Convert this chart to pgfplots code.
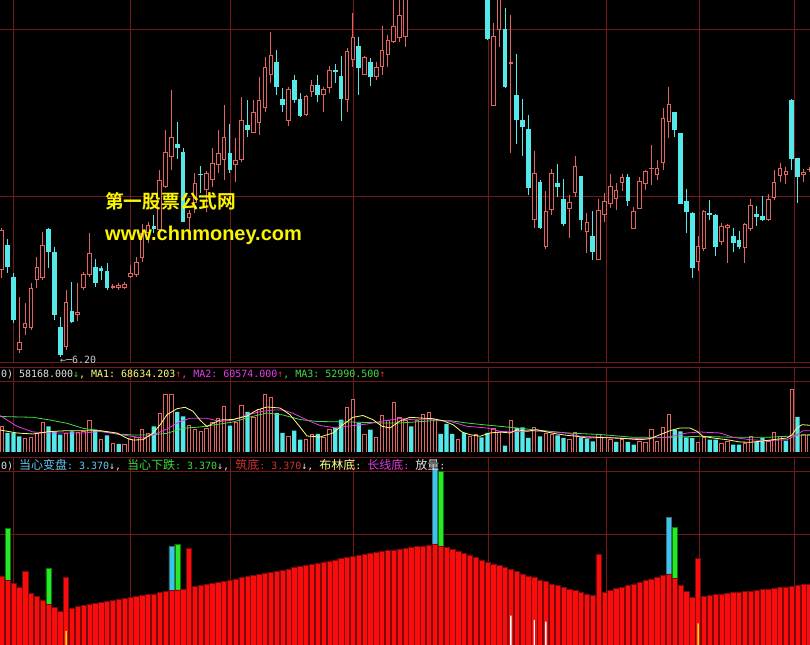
\documentclass[border=0pt]{standalone}
\usepackage{fontspec}
\usepackage{pgfplots}
\pgfplotsset{compat=1.18}
\usepackage{pgfplotstable}
\setmonofont{DejaVu Sans Mono}
\newfontfamily\cjk{Noto Sans CJK SC}
\newfontfamily\cjkb{Noto Sans CJK SC Bold}
\newfontfamily\lib{Liberation Sans}
\newcommand\C[1]{{\cjk\fontsize{12bp}{12bp}\selectfont #1}}
\definecolor{gridred}{RGB}{115,24,24}
\definecolor{candred}{RGB}{226,100,96}
\definecolor{candcyan}{RGB}{84,232,232}
\definecolor{indred}{RGB}{250,12,12}
\definecolor{indedge}{RGB}{120,10,10}
\definecolor{indgreen}{RGB}{40,230,40}
\definecolor{indcyan}{RGB}{50,200,240}
\definecolor{mayel}{RGB}{255,255,120}
\definecolor{mamag}{RGB}{230,60,230}
\definecolor{magrn}{RGB}{70,220,70}
\definecolor{hdrwhite}{RGB}{225,225,225}
\definecolor{hdrblue}{RGB}{100,200,240}
\definecolor{hdrgreen}{RGB}{60,220,60}
\definecolor{hdrred}{RGB}{210,50,50}
\definecolor{hdryel}{RGB}{255,255,140}
\definecolor{hdrmag}{RGB}{220,60,220}
\definecolor{wm}{RGB}{250,245,0}
\definecolor{lgray}{RGB}{200,200,200}

% candles: i, high, body top, body bottom, low  (image rows, top = 0)
\pgfplotstableread{
i h t b l
0 228 230 270 278
3 297 342 350 353
4 303 323 328 335
5 283 288 328 330
6 257 267 280 288
7 232 245 278 280
11 290 302 347 350
13 283 312 315 321
14 272 274 288 290
15 233 253 275 277
19 284 286 288 289
20 283 285 288 290
21 282 284 288 289
22 265 273 277 278
23 257 262 275 277
24 224 233 258 262
25 222 225 233 243
27 170 180 230 233
28 130 152 187 188
29 90 137 157 170
32 210 213 218 230
33 173 183 203 213
35 171 173 190 212
36 148 163 180 187
37 130 153 165 173
38 105 137 160 180
40 138 160 165 182
41 97 120 160 162
43 100 112 133 133
44 77 100 123 135
45 57 67 108 112
46 32 55 75 83
49 87 89 121 126
52 95 96 115 116
53 80 85 92 97
55 87 89 95 112
56 66 70 88 93
59 48 51 100 112
60 13 37 60 67
62 56 57 75 75
64 62 67 77 80
65 26 50 67 75
66 35 40 55 67
67 -10 26 42 43
68 -10 15 38 42
69 -10 -5 37 47
84 23 36 106 106
85 -10 -5 30 47
87 15 62 64 153
91 151 173 220 228
93 191 211 247 249
94 169 173 210 215
97 195 202 209 238
98 156 166 193 197
100 213 222 232 253
102 199 210 260 260
103 193 201 215 222
104 174 186 204 208
105 183 190 199 210
106 174 177 183 191
108 207 211 229 229
109 177 181 209 209
110 170 171 184 190
111 145 168 169 185
112 160 168 175 180
113 108 118 163 170
114 87 104 122 138
119 236 246 262 271
120 210 211 249 251
123 223 226 242 245
124 224 225 228 263
127 223 224 248 263
128 199 205 229 231
131 194 199 220 221
132 170 182 198 200
133 163 168 176 182
134 167 171 175 184
137 169 172 175 182
138 167 169 170 172
}\redc
\pgfplotstableread{
i h t b l
1 239 245 267 273
2 273 277 320 323
8 228 229 252 268
9 247 252 315 320
10 317 327 355 357
12 282 311 322 323
16 259 267 283 287
17 266 268 271 280
18 263 271 288 290
26 215 226 229 233
30 122 144 148 159
31 148 152 222 222
34 166 174 175 193
39 124 153 170 173
42 100 125 130 137
47 50 62 87 95
48 88 99 105 112
50 75 80 100 103
51 93 99 116 117
54 75 85 95 102
57 64 70 72 83
58 56 76 99 121
61 37 46 68 95
63 58 62 77 86
83 -10 -5 39 40
86 8 29 87 88
88 54 95 120 144
89 99 120 127 156
90 115 129 188 195
92 180 182 228 229
95 164 183 187 197
96 179 199 224 226
99 176 176 220 230
101 211 236 252 260
107 174 177 201 206
115 112 112 130 137
116 133 133 204 204
117 189 201 212 233
118 212 213 268 278
121 200 213 215 220
122 214 215 247 256
125 228 236 243 252
126 231 240 247 249
129 206 214 217 226
130 196 216 220 221
135 99 100 159 170
136 158 158 177 203
}\cyanc

% volume bars: i, top row of bar
\pgfplotstableread{
i t
0 426.3
4 438
5 437.3
6 433
7 422
11 433
13 432.3
14 431.3
15 420.3
17 439
19 443
21 444.7
22 439.7
23 437.3
24 429.7
25 433
27 413
28 394.7
29 394
32 425.3
33 429.7
34 431
35 428
36 422
37 418.7
38 406.3
40 422
41 405.3
43 417.3
44 409.7
45 394.7
46 397.3
49 436.3
52 439.7
53 434.7
55 437.3
56 429.7
59 407.3
60 399.7
62 434
64 437.3
65 415.3
66 420.7
67 402
68 417.3
69 420
71 420.7
72 414
73 412
74 419.5
78 439
80 436.3
81 434.7
84 428
85 432
87 420.7
91 427.3
93 433
94 434
97 439.7
98 432
102 434.7
103 437.3
104 439
106 439.7
109 441.3
110 442
111 429
112 441.3
113 427.3
114 414.7
119 442
120 437.3
123 443
124 441.3
127 443.7
128 436.3
131 441.3
132 432
133 436.3
135 389.7
137 434
138 434
}\redv
\pgfplotstableread{
i t
1 433
2 433
3 436.3
8 426.3
9 431.3
10 434.7
12 431.3
16 429.7
18 435.3
20 444
26 426.3
30 412
31 416.3
39 425.7
42 412
47 413
48 433
50 430.7
51 439.7
54 434
57 428
58 419.7
61 423
63 429.7
70 426.3
75 434
76 424
77 434
79 433
82 437.3
83 433
86 445.7
88 428
89 427.3
90 438
92 436.3
95 435.3
96 438
99 437.3
100 438.7
101 441.3
105 442
107 442
108 444.7
115 429.7
116 431.3
117 437.3
118 438
121 439.7
122 439.7
125 444.7
126 444.7
129 442
130 438
134 440.7
136 417
}\cyanv

% moving averages of volume: pixel x, row y
\pgfplotstableread{
x y
0 430
17 433
33 434
50 431.5
67 430.7
100 430.7
117 433
127 438.3
133 440
143 439.7
153 433
160 425
167 414.7
177 408.7
185 407.3
193 411.3
200 420
207 426.7
213 423.3
220 420
233 419.5
247 416
257 410
267 407
280 408
290 414.7
300 427
307 436
320 437
333 433
343 424.7
353 417.3
363 415.5
373 419.7
382 426.3
390 428
400 421
410 417.3
420 418
433 418.7
443 420.7
453 424.7
462 432
470 434.7
480 436.3
490 433
500 432
510 433
517 429.7
527 431.3
537 429.7
547 432
557 434
567 435.3
577 436.3
587 438
600 437.5
613 438
627 438.7
640 439.7
650 438.7
660 434.7
670 430.7
680 428
690 428
697 431.3
703 436.3
713 438
727 439.7
740 442
750 442.3
760 441.3
773 439.7
787 438
792 434.7
797 428
802 424.7
810 425.3
}\maone
\pgfplotstableread{
x y
0 415.5
17 426.3
33 432
50 433
83 433
100 431.5
117 434
133 436.5
143 438
153 435
167 429
180 421.5
190 418.3
207 418.3
220 421.5
233 420
247 415
260 411.7
273 410
283 410
293 413.3
307 420
320 425.5
333 427.5
350 426
367 424
383 421
400 418.5
413 419.7
433 419.7
450 421.3
467 426.3
487 428
500 431.3
513 432
527 430.7
540 431.3
553 432
567 433
580 436.3
600 437
633 438.7
667 437.3
687 433
700 432
720 433
733 437.3
750 439.7
767 440.7
787 439.7
797 434.7
803 430.7
810 430.7
}\matwo
\pgfplotstableread{
x y
0 416.5
33 417.3
50 420
67 423.3
83 428.3
100 430.7
117 434
133 435
150 435
167 433.3
183 428.3
200 427
217 424.5
233 422
250 417
267 413
283 415
300 419.5
317 421.5
350 422
367 422.5
383 423
400 423
433 420.7
450 420.7
467 423
483 424.7
500 426.3
517 428
533 429.7
550 431.3
567 433
600 434.5
633 437.3
667 437.3
700 436.3
733 437.3
767 437.3
787 436.3
800 435.3
810 435.3
}\mathree

% indicator: i, top row of bar
\pgfplotstableread{
i t
0 576
1 580.7
2 583.3
3 587.3
4 571.7
5 593.3
6 596.7
7 600
8 604.3
9 607.3
10 611.7
11 577.3
12 608.3
13 606.7
14 605.7
15 604.3
16 603.3
17 602.3
18 601.3
19 600.3
20 599.3
21 598.3
22 597.3
23 596.7
24 595.7
25 594.7
26 594
27 592.7
28 591.7
29 590.7
30 590
31 589
32 548.3
33 586.7
34 585.7
35 584.3
36 583.3
37 582.3
38 581.3
39 580
40 579
41 577.7
42 576.7
43 575.7
44 574.7
45 573.3
46 572.3
47 571.3
48 570.3
49 569
50 567.7
51 566.7
52 565.7
53 564.3
54 563.3
55 562
56 561
57 560
58 558.7
59 557.7
60 556.7
61 555.7
62 554.7
63 553.7
64 552.7
65 551.7
66 550.7
67 550
68 549
69 548.3
70 547.3
71 546.7
72 546
73 545
74 544
75 546
76 547.3
77 549.3
78 551
79 553.3
80 555
81 557.3
82 560
83 562.3
84 564
85 565.7
86 567.3
87 569.3
88 571.7
89 574
90 576
91 577.3
92 580
93 581.7
94 584
95 585.7
96 587.3
97 589.3
98 590.7
99 592.3
100 594
101 595.7
102 554.3
103 592.7
104 590.7
105 588.7
106 587.3
107 585.7
108 584
109 582.3
110 580.7
111 579
112 577.3
113 575.7
114 574
115 578.3
116 585
117 591.7
118 597.3
119 558.3
120 596.7
121 595.7
122 594.7
123 594
124 593.3
125 592.7
126 592.3
127 591.7
128 591
129 590.3
130 589.7
131 589
132 588.3
133 587.7
134 587
135 586.3
136 585.3
137 584.7
138 584
}\indred
\pgfplotstableread{
i t
1 528.3
8 568.3
30 544.3
75 471.7
115 527.3
}\indgrn
\pgfplotstableread{
i t
29 546.7
74 468.3
114 517.7
}\indcyn
\pgfplotstableread{
i t
87 615.7
91 620
93 621.7
}\indwht
\pgfplotstableread{
i t
11 631
119 623.3
}\indyel

\pgfplotsset{
  panel/.style={scale only axis, width=810bp, xmin=0, xmax=810,
    axis line style={draw=none}, major tick length=0pt,
    xtick={13,130,230,353,488,606,699,794}, xticklabels={}, yticklabels={},
    grid=major, grid style={gridred, line width=0.8bp}, anchor=south west},
}
\newcommand\XI{1.7+5.852*\thisrow{i}}

\begin{document}
\begin{tikzpicture}
\fill[black] (0,0) rectangle (810bp,645bp);
\path[use as bounding box] (0,0) rectangle (810bp,645bp);

% ---- price panel ----
\begin{axis}[panel, at={(0bp,283bp)}, height=362bp, ymin=0, ymax=362, y dir=reverse, ytick={29,196,362}]
\addplot[candred, line width=0.9bp, quiver={u=0, v=\thisrow{l}-\thisrow{h}}] table[x expr=\XI, y=h] {\redc};
\addplot[candred, line width=4.6bp, quiver={u=0, v={max(\thisrow{b}-\thisrow{t},1)}}] table[x expr=\XI, y=t] {\redc};
\addplot[black, line width=2.6bp, quiver={u=0, v={max(\thisrow{b}-\thisrow{t}-2,0)}}] table[x expr=\XI, y expr=\thisrow{t}+1] {\redc};
\addplot[candcyan, line width=0.9bp, quiver={u=0, v=\thisrow{l}-\thisrow{h}}] table[x expr=\XI, y=h] {\cyanc};
\addplot[candcyan, line width=4.6bp, quiver={u=0, v={max(\thisrow{b}-\thisrow{t},1)}}] table[x expr=\XI, y=t] {\cyanc};
\end{axis}

% ---- volume panel ----
\begin{axis}[panel, at={(0bp,193bp)}, height=85bp, ymin=0, ymax=85, ytick={71,85}]
\addplot[ybar, bar shift=0pt, bar width=3.4bp, draw=candred, fill=black, line width=0.9bp] table[x expr=\XI, y expr=452-\thisrow{t}] {\redv};
\addplot[ybar, bar shift=0pt, bar width=4.3bp, draw=none, fill=candcyan] table[x expr=\XI, y expr=452-\thisrow{t}] {\cyanv};
\addplot[magrn, line width=0.8bp] table[x=x, y expr=452-\thisrow{y}] {\mathree};
\addplot[mamag, line width=0.8bp] table[x=x, y expr=452-\thisrow{y}] {\matwo};
\addplot[mayel, line width=0.8bp] table[x=x, y expr=452-\thisrow{y}] {\maone};
\end{axis}

% ---- indicator panel ----
\begin{axis}[panel, at={(0bp,0bp)}, height=188bp, ymin=0, ymax=188, ytick={111,174,188}]
\addplot[ybar, bar shift=0pt, bar width=5.1bp, fill=indgreen, draw=green!50!black, line width=0.4bp] table[x expr=\XI, y expr=645-\thisrow{t}] {\indgrn};
\addplot[ybar, bar shift=0pt, bar width=5.1bp, fill=indcyan, draw=cyan!40!black, line width=0.4bp] table[x expr=\XI, y expr=645-\thisrow{t}] {\indcyn};
\addplot[ybar, bar shift=0pt, bar width=5.3bp, fill=indred, draw=indedge, line width=0.5bp] table[x expr=\XI, y expr=645-\thisrow{t}] {\indred};
\addplot[ybar, bar shift=0pt, bar width=1.4bp, fill=white!90!pink, draw=none] table[x expr=\XI, y expr=645-\thisrow{t}] {\indwht};
\addplot[ybar, bar shift=0pt, bar width=1.4bp, fill=yellow!90!orange, draw=none] table[x expr=\XI, y expr=645-\thisrow{t}] {\indyel};
\end{axis}

% ---- texts ----
\node[anchor=west, inner sep=0, font=\ttfamily\fontsize{9.97bp}{12bp}\selectfont] at (1bp,271bp)
 {\textcolor{hdrwhite}{0) 58168.000}\textcolor{hdrgreen}{↓}\textcolor{mayel}{, MA1: 68634.203}\textcolor{hdrred}{↑}\textcolor{mamag}{, MA2: 60574.000}\textcolor{hdrred}{↑}\textcolor{magrn}{, MA3: 52990.500}\textcolor{hdrred}{↑}};
\node[anchor=west, inner sep=0, font=\ttfamily\fontsize{9.97bp}{12bp}\selectfont] at (1bp,180bp)
 {\textcolor{hdrwhite}{0) }\textcolor{hdrblue}{\C{当心变盘}: 3.370}\textcolor{hdrwhite}{↓, }\textcolor{hdrgreen}{\C{当心下跌}: 3.370}\textcolor{hdrwhite}{↓, }\textcolor{hdrred}{\C{筑底}: 3.370}\textcolor{hdrwhite}{↓, }\textcolor{hdryel}{\C{布林底}: }\textcolor{hdrmag}{\C{长线底}: }\textcolor{hdrwhite}{\C{放量}:}};
\node[anchor=west, inner sep=0, text=lgray, font=\ttfamily\fontsize{9.97bp}{12bp}\selectfont] at (60bp,285bp) {←─6.20};
\node[anchor=west, inner sep=0, text=wm] at (105bp,444bp) {\cjkb\fontsize{18.7bp}{20bp}\selectfont 第一股票公式网};
\node[anchor=west, inner sep=0, text=wm] at (105bp,410bp) {\lib\bfseries\fontsize{20bp}{22bp}\selectfont www.chnmoney.com};
\end{tikzpicture}
\end{document}
